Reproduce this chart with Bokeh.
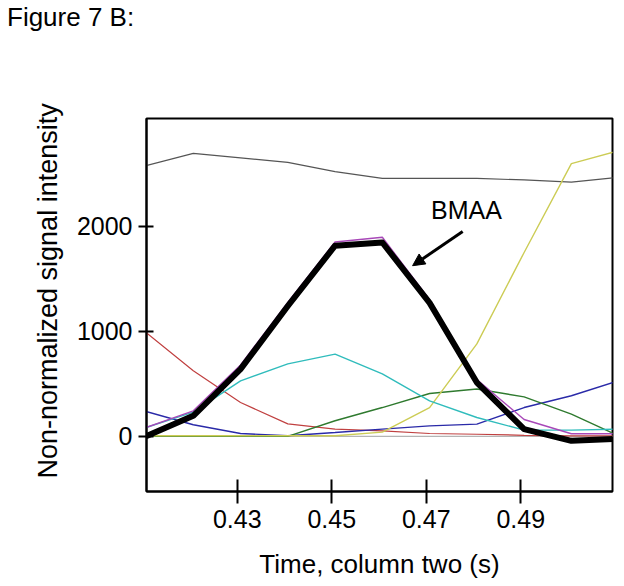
from bokeh.plotting import figure
from bokeh.models import Range1d, FixedTicker, Label, Arrow, NormalHead, Div, Title
from bokeh.layouts import column
from bokeh.embed import file_html
from bokeh.resources import INLINE

# ---- data ----
times = [0.4107, 0.4207, 0.4307, 0.4407, 0.4507, 0.4607, 0.4707, 0.4807, 0.4907, 0.5007, 0.5107]
bmaa = [0, 195, 640, 1240, 1815, 1845, 1270, 512, 69, -43, -24]
magenta = [84, 243, 680, 1275, 1850, 1895, 1300, 540, 160, 25, 24]
cyan = [84, 230, 528, 690, 783, 595, 338, 179, 59, 59, 69]
red = [989, 624, 322, 119, 69, 52, 27, 20, 10, 5, 5]
navy = [236, 110, 27, 5, 36, 69, 100, 116, 274, 386, 529]
green = [0, 0, 0, 0, 148, 274, 408, 450, 376, 211, 5]
yellow = [5, 5, 5, 5, 5, 40, 274, 880, 1750, 2595, 2719]
gray = [2576, 2693, 2650, 2608, 2520, 2455, 2455, 2455, 2440, 2420, 2465]
baseline = [0, 0, 0, 0, 0, 0, 0, 0, 0, 0, 0]

x_ticks = [0.43, 0.45, 0.47, 0.49]
y_ticks = [0, 1000, 2000]

FONT = "Liberation Sans"

p = figure(width=624, height=546,
           x_range=Range1d(0.4108, 0.5094), y_range=Range1d(-525, 3025),
           output_backend="svg", toolbar_location=None,
           min_border_left=146, min_border_right=12,
           min_border_top=78, min_border_bottom=95)

p.xgrid.visible = False
p.ygrid.visible = False
p.outline_line_color = "black"
p.outline_line_width = 2
p.outline_line_alpha = 1
p.background_fill_color = "white"
p.border_fill_color = "white"

p.line(times, baseline, line_color="#b4b4b4", line_width=1.2)
p.line(times, gray, line_color="#555555", line_width=1.2)
p.line(times, red, line_color="#c04040", line_width=1.2)
p.line(times, navy, line_color="#2a2aa8", line_width=1.4)
p.line(times, green, line_color="#2f7a2f", line_width=1.4)
p.line(times, yellow, line_color="#cccc55", line_width=1.4)
p.line(times, cyan, line_color="#30bcbc", line_width=1.4)
p.line(times, magenta, line_color="#a848b8", line_width=1.4)
p.line(times, bmaa, line_color="black", line_width=6, line_join="round")

for ax in (p.xaxis[0], p.yaxis[0]):
    ax.axis_line_width = 2
    ax.axis_line_color = "black"
    ax.major_tick_line_width = 2
    ax.major_tick_line_color = "black"
    ax.minor_tick_line_color = None
    ax.major_label_text_font = FONT
    ax.major_label_text_font_size = "25px"
    ax.major_label_text_color = "black"
    ax.axis_label_text_font = FONT
    ax.axis_label_text_font_size = "26px"
    ax.axis_label_text_font_style = "normal"
    ax.axis_label_text_color = "black"

p.xaxis.ticker = FixedTicker(ticks=x_ticks)
p.yaxis.ticker = FixedTicker(ticks=y_ticks)
p.xaxis.major_tick_in = 12
p.xaxis.major_tick_out = 12
p.yaxis.major_tick_in = 7
p.yaxis.major_tick_out = 8
p.xaxis.major_label_standoff = 6
p.yaxis.major_label_standoff = 6
p.xaxis.axis_label = "Time, column two (s)"
p.xaxis.axis_label_standoff = 18

# y-axis title as a side Title so it can sit a little above the frame centre
p.add_layout(Title(text="Non-normalized signal intensity", align="left",
                   offset=13, standoff=21, text_font=FONT,
                   text_font_size="27px", text_font_style="normal",
                   text_color="black"), "left")

p.add_layout(Label(x=0.4785, y=2157, text="BMAA", text_align="center",
                   text_baseline="middle", text_font=FONT,
                   text_font_size="25px", text_color="black"))
p.add_layout(Arrow(end=NormalHead(size=12, fill_color="black", line_color="black"),
                   x_start=0.4777, y_start=1950, x_end=0.4671, y_end=1624,
                   line_width=3, line_color="black"))

title = Div(text="Figure 7 B:", width=624, height=40,
            styles={"font-family": FONT, "font-size": "26px", "color": "black",
                    "line-height": "26px", "margin": "0",
                    "padding-top": "4px", "padding-left": "7px"})

layout = column(title, p, spacing=0)

open("out.html", "w").write(file_html(layout, INLINE))
